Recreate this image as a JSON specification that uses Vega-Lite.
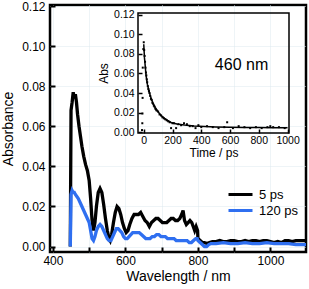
{
  "$schema": "https://vega.github.io/schema/vega-lite/v6.json",
  "width": 256,
  "height": 247,
  "autosize": "none",
  "padding": {"left": 50, "top": 5, "right": 3, "bottom": 37},
  "config": {
    "font": "Liberation Sans",
    "view": {"stroke": "black", "strokeWidth": 2.5},
    "axis": {"labelColor": "black", "titleColor": "black", "tickColor": "black", "domain": false, "ticks": true, "zindex": 1}
  },
  "resolve": {"scale": {"x": "independent", "y": "independent", "color": "independent"}, "axis": {"x": "independent", "y": "independent"}},
  "layer": [
    {
      "data": {"values": [
        {"wl":448,"s":"5 ps","a":0.0},{"wl":450,"s":"5 ps","a":0.068},{"wl":453,"s":"5 ps","a":0.072},{"wl":456,"s":"5 ps","a":0.077},{"wl":459,"s":"5 ps","a":0.074},{"wl":462,"s":"5 ps","a":0.076},{"wl":465,"s":"5 ps","a":0.072},{"wl":468,"s":"5 ps","a":0.066},{"wl":472,"s":"5 ps","a":0.06},{"wl":476,"s":"5 ps","a":0.055},{"wl":480,"s":"5 ps","a":0.05},{"wl":485,"s":"5 ps","a":0.045},{"wl":490,"s":"5 ps","a":0.041},{"wl":495,"s":"5 ps","a":0.038},{"wl":500,"s":"5 ps","a":0.033},{"wl":504,"s":"5 ps","a":0.024},{"wl":508,"s":"5 ps","a":0.013},{"wl":512,"s":"5 ps","a":0.008},{"wl":516,"s":"5 ps","a":0.012},{"wl":520,"s":"5 ps","a":0.02},{"wl":525,"s":"5 ps","a":0.027},{"wl":530,"s":"5 ps","a":0.029},{"wl":535,"s":"5 ps","a":0.027},{"wl":540,"s":"5 ps","a":0.021},{"wl":545,"s":"5 ps","a":0.014},{"wl":550,"s":"5 ps","a":0.008},{"wl":555,"s":"5 ps","a":0.004},{"wl":558,"s":"5 ps","a":0.003},{"wl":562,"s":"5 ps","a":0.006},{"wl":567,"s":"5 ps","a":0.012},{"wl":572,"s":"5 ps","a":0.017},{"wl":577,"s":"5 ps","a":0.02},{"wl":582,"s":"5 ps","a":0.019},{"wl":587,"s":"5 ps","a":0.016},{"wl":592,"s":"5 ps","a":0.012},{"wl":597,"s":"5 ps","a":0.009},{"wl":602,"s":"5 ps","a":0.007},{"wl":607,"s":"5 ps","a":0.008},{"wl":612,"s":"5 ps","a":0.011},{"wl":618,"s":"5 ps","a":0.014},{"wl":624,"s":"5 ps","a":0.016},{"wl":630,"s":"5 ps","a":0.016},{"wl":636,"s":"5 ps","a":0.016},{"wl":642,"s":"5 ps","a":0.017},{"wl":648,"s":"5 ps","a":0.015},{"wl":654,"s":"5 ps","a":0.013},{"wl":660,"s":"5 ps","a":0.012},{"wl":666,"s":"5 ps","a":0.01},{"wl":672,"s":"5 ps","a":0.012},{"wl":678,"s":"5 ps","a":0.013},{"wl":684,"s":"5 ps","a":0.014},{"wl":690,"s":"5 ps","a":0.014},{"wl":696,"s":"5 ps","a":0.013},{"wl":702,"s":"5 ps","a":0.012},{"wl":708,"s":"5 ps","a":0.012},{"wl":714,"s":"5 ps","a":0.012},{"wl":720,"s":"5 ps","a":0.013},{"wl":726,"s":"5 ps","a":0.014},{"wl":732,"s":"5 ps","a":0.014},{"wl":738,"s":"5 ps","a":0.013},{"wl":744,"s":"5 ps","a":0.013},{"wl":750,"s":"5 ps","a":0.014},{"wl":755,"s":"5 ps","a":0.016},{"wl":759,"s":"5 ps","a":0.018},{"wl":763,"s":"5 ps","a":0.013},{"wl":768,"s":"5 ps","a":0.011},{"wl":773,"s":"5 ps","a":0.012},{"wl":778,"s":"5 ps","a":0.013},{"wl":783,"s":"5 ps","a":0.012},{"wl":787,"s":"5 ps","a":0.01},{"wl":791,"s":"5 ps","a":0.008},{"wl":795,"s":"5 ps","a":0.01},{"wl":799,"s":"5 ps","a":0.008},{"wl":800,"s":"5 ps","a":0.004},{"wl":806,"s":"5 ps","a":0.003},{"wl":812,"s":"5 ps","a":0.002},{"wl":818,"s":"5 ps","a":0.002},{"wl":825,"s":"5 ps","a":0.0015},{"wl":832,"s":"5 ps","a":0.002},{"wl":840,"s":"5 ps","a":0.0025},{"wl":850,"s":"5 ps","a":0.0025},{"wl":860,"s":"5 ps","a":0.003},{"wl":870,"s":"5 ps","a":0.0025},{"wl":880,"s":"5 ps","a":0.0025},{"wl":890,"s":"5 ps","a":0.003},{"wl":900,"s":"5 ps","a":0.003},{"wl":910,"s":"5 ps","a":0.0025},{"wl":920,"s":"5 ps","a":0.0025},{"wl":930,"s":"5 ps","a":0.003},{"wl":940,"s":"5 ps","a":0.0025},{"wl":950,"s":"5 ps","a":0.003},{"wl":960,"s":"5 ps","a":0.003},{"wl":970,"s":"5 ps","a":0.0025},{"wl":980,"s":"5 ps","a":0.003},{"wl":990,"s":"5 ps","a":0.003},{"wl":1000,"s":"5 ps","a":0.0025},{"wl":1010,"s":"5 ps","a":0.002},{"wl":1020,"s":"5 ps","a":0.0025},{"wl":1030,"s":"5 ps","a":0.002},{"wl":1040,"s":"5 ps","a":0.003},{"wl":1050,"s":"5 ps","a":0.003},{"wl":1060,"s":"5 ps","a":0.0025},{"wl":1070,"s":"5 ps","a":0.003},{"wl":1080,"s":"5 ps","a":0.003},{"wl":1090,"s":"5 ps","a":0.003},{"wl":1098,"s":"5 ps","a":0.003},
        {"wl":448,"s":"120 ps","a":0.0},{"wl":450,"s":"120 ps","a":0.026},{"wl":453,"s":"120 ps","a":0.028},{"wl":456,"s":"120 ps","a":0.027},{"wl":459,"s":"120 ps","a":0.027},{"wl":462,"s":"120 ps","a":0.026},{"wl":466,"s":"120 ps","a":0.025},{"wl":470,"s":"120 ps","a":0.024},{"wl":475,"s":"120 ps","a":0.022},{"wl":480,"s":"120 ps","a":0.02},{"wl":485,"s":"120 ps","a":0.018},{"wl":490,"s":"120 ps","a":0.016},{"wl":495,"s":"120 ps","a":0.014},{"wl":500,"s":"120 ps","a":0.012},{"wl":504,"s":"120 ps","a":0.008},{"wl":508,"s":"120 ps","a":0.004},{"wl":512,"s":"120 ps","a":0.003},{"wl":516,"s":"120 ps","a":0.005},{"wl":520,"s":"120 ps","a":0.008},{"wl":525,"s":"120 ps","a":0.01},{"wl":530,"s":"120 ps","a":0.011},{"wl":535,"s":"120 ps","a":0.01},{"wl":540,"s":"120 ps","a":0.008},{"wl":545,"s":"120 ps","a":0.006},{"wl":550,"s":"120 ps","a":0.004},{"wl":555,"s":"120 ps","a":0.003},{"wl":560,"s":"120 ps","a":0.003},{"wl":565,"s":"120 ps","a":0.005},{"wl":570,"s":"120 ps","a":0.007},{"wl":575,"s":"120 ps","a":0.009},{"wl":580,"s":"120 ps","a":0.009},{"wl":585,"s":"120 ps","a":0.008},{"wl":590,"s":"120 ps","a":0.007},{"wl":595,"s":"120 ps","a":0.005},{"wl":600,"s":"120 ps","a":0.004},{"wl":605,"s":"120 ps","a":0.004},{"wl":610,"s":"120 ps","a":0.005},{"wl":615,"s":"120 ps","a":0.006},{"wl":620,"s":"120 ps","a":0.007},{"wl":626,"s":"120 ps","a":0.007},{"wl":632,"s":"120 ps","a":0.007},{"wl":638,"s":"120 ps","a":0.007},{"wl":644,"s":"120 ps","a":0.006},{"wl":650,"s":"120 ps","a":0.005},{"wl":656,"s":"120 ps","a":0.004},{"wl":662,"s":"120 ps","a":0.004},{"wl":668,"s":"120 ps","a":0.004},{"wl":674,"s":"120 ps","a":0.005},{"wl":680,"s":"120 ps","a":0.005},{"wl":686,"s":"120 ps","a":0.006},{"wl":692,"s":"120 ps","a":0.006},{"wl":698,"s":"120 ps","a":0.005},{"wl":704,"s":"120 ps","a":0.005},{"wl":710,"s":"120 ps","a":0.005},{"wl":716,"s":"120 ps","a":0.004},{"wl":722,"s":"120 ps","a":0.004},{"wl":728,"s":"120 ps","a":0.004},{"wl":734,"s":"120 ps","a":0.004},{"wl":740,"s":"120 ps","a":0.003},{"wl":746,"s":"120 ps","a":0.003},{"wl":752,"s":"120 ps","a":0.003},{"wl":758,"s":"120 ps","a":0.003},{"wl":764,"s":"120 ps","a":0.003},{"wl":770,"s":"120 ps","a":0.003},{"wl":776,"s":"120 ps","a":0.002},{"wl":782,"s":"120 ps","a":0.002},{"wl":788,"s":"120 ps","a":0.003},{"wl":794,"s":"120 ps","a":0.004},{"wl":798,"s":"120 ps","a":0.004},{"wl":800,"s":"120 ps","a":0.003},{"wl":806,"s":"120 ps","a":0.002},{"wl":812,"s":"120 ps","a":0.001},{"wl":818,"s":"120 ps","a":0.0},{"wl":824,"s":"120 ps","a":0.0},{"wl":830,"s":"120 ps","a":0.001},{"wl":836,"s":"120 ps","a":0.0015},{"wl":850,"s":"120 ps","a":0.0015},{"wl":870,"s":"120 ps","a":0.002},{"wl":890,"s":"120 ps","a":0.0015},{"wl":910,"s":"120 ps","a":0.0015},{"wl":930,"s":"120 ps","a":0.002},{"wl":950,"s":"120 ps","a":0.0015},{"wl":970,"s":"120 ps","a":0.0015},{"wl":990,"s":"120 ps","a":0.002},{"wl":1010,"s":"120 ps","a":0.0015},{"wl":1030,"s":"120 ps","a":0.0015},{"wl":1050,"s":"120 ps","a":0.0015},{"wl":1070,"s":"120 ps","a":0.001},{"wl":1098,"s":"120 ps","a":0.001}
      ]},
      "mark": {"type": "line", "strokeWidth": 3.3, "clip": true},
      "encoding": {
        "x": {"field": "wl", "type": "quantitative", "scale": {"domain": [392, 1098], "nice": false},
          "axis": {"orient": "bottom", "title": "Wavelength / nm", "values": [400,500,600,700,800,900,1000,1100], "labelExpr": "datum.value % 200 == 0 ? datum.label : ''", "format": "d", "tickSize": -5, "tickWidth": 2, "labelPadding": 8, "labelFontSize": 12, "titleFontSize": 14, "titleFontWeight": "normal", "titlePadding": 3, "grid": true, "gridColor": "#dde8ee", "gridDash": [1, 1], "labelFlush": false}},
        "y": {"field": "a", "type": "quantitative", "scale": {"domain": [-0.0027, 0.1205], "nice": false},
          "axis": {"orient": "left", "title": "Absorbance", "values": [0,0.02,0.04,0.06,0.08,0.1,0.12], "format": ".2f", "tickSize": -5, "tickWidth": 2, "labelPadding": 10, "labelFontSize": 12, "titleFontSize": 14, "titleFontWeight": "normal", "titlePadding": 6, "grid": true, "gridColor": "#dde8ee", "gridDash": [1, 1], "labelFlush": false}},
        "color": {"field": "s", "type": "nominal", "scale": {"domain": ["5 ps", "120 ps"], "range": ["#000000", "#2f6ff0"]},
          "sort": ["5 ps", "120 ps"],
          "legend": {"orient": "none", "legendX": 184, "legendY": 183, "title": null, "padding": 0, "symbolType": "M-4,0H4", "symbolSize": 36, "symbolStrokeWidth": 3, "labelFontSize": 13, "labelOffset": 12, "rowPadding": 2}}
      }
    },
    {
      "layer": [
        {
          "data": {"values": [{}]},
          "mark": {"type": "rect", "fill": "transparent", "stroke": "black", "strokeWidth": 1.5},
          "encoding": {
            "x": {"datum": -40, "type": "quantitative"},
            "x2": {"datum": 1010},
            "y": {"datum": -0.001, "type": "quantitative"},
            "y2": {"datum": 0.122}
          }
        },
        {
          "data": {"values": [
            {"t":-12,"v":0.002},{"t":-10,"v":0.009},{"t":-9,"v":0.019},{"t":-8,"v":0.035},{"t":-7,"v":0.066},{"t":-3,"v":0.085},{"t":0,"v":0.092},{"t":3,"v":0.084},{"t":6,"v":0.078},{"t":9,"v":0.072},{"t":12,"v":0.066},{"t":15,"v":0.061},{"t":18,"v":0.058},{"t":21,"v":0.054},{"t":24,"v":0.051},{"t":28,"v":0.047},{"t":32,"v":0.044},{"t":36,"v":0.042},{"t":40,"v":0.040},{"t":45,"v":0.037},{"t":50,"v":0.034},{"t":55,"v":0.033},{"t":60,"v":0.030},{"t":65,"v":0.029},{"t":70,"v":0.027},{"t":75,"v":0.026},{"t":80,"v":0.024},{"t":85,"v":0.023},{"t":90,"v":0.022},{"t":100,"v":0.021},{"t":110,"v":0.018},{"t":120,"v":0.017},{"t":130,"v":0.015},{"t":140,"v":0.014},{"t":150,"v":0.013},{"t":160,"v":0.012},{"t":170,"v":0.011},{"t":180,"v":0.010},{"t":190,"v":0.004},{"t":200,"v":0.009},{"t":210,"v":0.009},{"t":225,"v":0.004},{"t":240,"v":0.008},{"t":260,"v":0.007},{"t":280,"v":0.009},{"t":300,"v":0.008},{"t":320,"v":0.006},{"t":340,"v":0.006},{"t":360,"v":0.004},{"t":380,"v":0.007},{"t":400,"v":0.005},{"t":440,"v":0.006},{"t":480,"v":0.005},{"t":520,"v":0.004},{"t":560,"v":0.005},{"t":580,"v":0.010},{"t":620,"v":0.004},{"t":660,"v":0.006},{"t":700,"v":0.005},{"t":740,"v":0.004},{"t":780,"v":0.005},{"t":820,"v":0.004},{"t":860,"v":0.005},{"t":880,"v":0.006},{"t":900,"v":0.005},{"t":940,"v":0.005},{"t":980,"v":0.004}
          ]},
          "mark": {"type": "point", "shape": "square", "filled": true, "size": 4, "color": "black", "opacity": 1},
          "encoding": {
            "x": {"field": "t", "type": "quantitative", "scale": {"domain": [-40, 1010], "range": [88, 239], "nice": false},
              "axis": {"orient": "bottom", "offset": -119, "title": "Time / ps", "values": [0,200,400,600,800,1000], "format": "d", "tickSize": -4, "tickWidth": 1.5, "labelPadding": 6, "labelFontSize": 10.5, "titleFontSize": 12, "titleFontWeight": "normal", "titlePadding": 2, "grid": false, "labelFlush": false}},
            "y": {"field": "v", "type": "quantitative", "scale": {"domain": [-0.001, 0.122], "range": [128, 8], "nice": false},
              "axis": {"orient": "left", "offset": -88, "title": "Abs", "values": [0,0.02,0.04,0.06,0.08,0.1,0.12], "format": ".2f", "tickSize": -4, "tickWidth": 1.5, "labelPadding": 8, "labelFontSize": 10.5, "titleFontSize": 12, "titleFontWeight": "normal", "titlePadding": 3, "grid": false, "labelFlush": false}}
          }
        },
        {
          "data": {"values": [
            {"t":0,"v":0.090},{"t":5,"v":0.076},{"t":10,"v":0.068},{"t":16,"v":0.058},{"t":25,"v":0.049},{"t":40,"v":0.040},{"t":50,"v":0.035},{"t":63,"v":0.030},{"t":80,"v":0.025},{"t":98,"v":0.021},{"t":120,"v":0.017},{"t":144,"v":0.014},{"t":165,"v":0.012},{"t":190,"v":0.0098},{"t":230,"v":0.0083},{"t":283,"v":0.0072},{"t":350,"v":0.0062},{"t":423,"v":0.0056},{"t":500,"v":0.0052},{"t":600,"v":0.0049},{"t":700,"v":0.0047},{"t":800,"v":0.0046},{"t":900,"v":0.0045},{"t":1000,"v":0.0045}
          ]},
          "mark": {"type": "line", "color": "black", "strokeWidth": 1.5},
          "encoding": {
            "x": {"field": "t", "type": "quantitative"},
            "y": {"field": "v", "type": "quantitative"}
          }
        },
        {
          "data": {"values": [{}]},
          "mark": {"type": "text", "text": "460 nm", "fontSize": 16, "color": "black", "align": "center", "baseline": "middle"},
          "encoding": {
            "x": {"datum": 680, "type": "quantitative"},
            "y": {"datum": 0.069, "type": "quantitative"}
          }
        }
      ]
    }
  ]
}
